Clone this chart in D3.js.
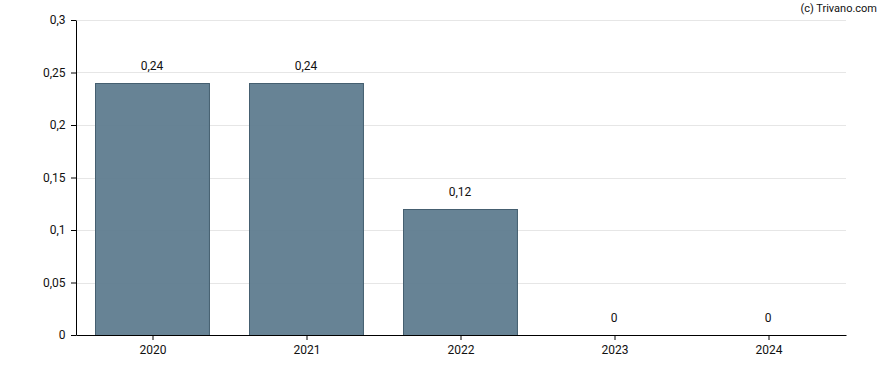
<!DOCTYPE html>
<html>
<head>
<meta charset="utf-8">
<script src="https://cdn.jsdelivr.net/npm/d3@7"></script>
<style>
    body { margin: 0; background: #fff; }
    svg { font-family: Roboto, "Noto Sans", sans-serif; }
</style>
</head>
<body>
<svg id="chart"></svg>
<script>
const years = ['2020', '2021', '2022', '2023', '2024'];
const values = [0.24, 0.24, 0.12, 0, 0];
const yTicks = [0, 0.05, 0.1, 0.15, 0.2, 0.25, 0.3];

const width = 888, height = 370;
const margin = { top: 20, right: 42, bottom: 35, left: 76 };
const innerW = width - margin.left - margin.right;
const innerH = height - margin.top - margin.bottom;

const fmt = d => String(d).replace('.', ',');

const svg = d3.select('#chart')
    .attr('width', width)
    .attr('height', height);

const chart = svg.append('g')
    .attr('transform', `translate(${margin.left}, ${margin.top})`);

const x = d3.scaleBand()
    .domain(years)
    .range([0, innerW])
    .paddingInner(0.26)
    .paddingOuter(0.13);

const y = d3.scaleLinear()
    .domain([0, 0.3])
    .range([innerH, 0]);

// Gridlines
chart.append('g')
    .selectAll('line')
    .data(yTicks.filter(d => d > 0))
    .join('line')
    .attr('x1', 0)
    .attr('x2', innerW)
    .attr('y1', d => Math.round(y(d)) + 0.5)
    .attr('y2', d => Math.round(y(d)) + 0.5)
    .attr('stroke', '#e6e6e6')
    .attr('stroke-width', 1);

// Bars
chart.selectAll('.bar')
    .data(values.map((v, i) => ({ year: years[i], value: v })).filter(d => d.value > 0))
    .join('rect')
    .attr('class', 'bar')
    .attr('x', d => Math.round(x(d.year)) - 0.5)
    .attr('y', d => Math.round(y(d.value)) + 0.5)
    .attr('width', x.bandwidth())
    .attr('height', d => innerH - Math.round(y(d.value)))
    .attr('fill', '#5d7b8e')
    .attr('fill-opacity', 0.94)
    .attr('stroke', '#455f70')
    .attr('stroke-width', 1);

// Value labels
chart.selectAll('.val')
    .data(values.map((v, i) => ({ year: years[i], value: v })))
    .join('text')
    .attr('class', 'val')
    .attr('x', d => x(d.year) + x.bandwidth() / 2 - 1)
    .attr('y', d => y(d.value) - 13)
    .attr('text-anchor', 'middle')
    .attr('font-size', '12px')
    .attr('fill', '#111')
    .text(d => fmt(d.value));

// Axes
const xAxis = d3.axisBottom(x).tickSize(5).tickSizeOuter(0);
const yAxis = d3.axisLeft(y).tickValues(yTicks).tickFormat(fmt).tickSize(5).tickSizeOuter(0);

const xg = chart.append('g')
    .attr('transform', `translate(0, ${innerH})`)
    .call(xAxis);

const yg = chart.append('g')
    .call(yAxis);

[xg, yg].forEach(g => {
    g.selectAll('path, line').attr('stroke', '#000');
    g.selectAll('text').attr('font-size', '12px').attr('fill', '#111').attr('font-family', 'Roboto, sans-serif');
});
xg.selectAll('text').attr('dy', '0.95em');
yg.selectAll('text').attr('dx', '-0.2em');

// Credit
svg.append('text')
    .attr('x', 877)
    .attr('y', 12)
    .attr('text-anchor', 'end')
    .attr('font-size', '11px')
    .attr('fill', '#111')
    .text('(c) Trivano.com');
</script>
</body>
</html>
